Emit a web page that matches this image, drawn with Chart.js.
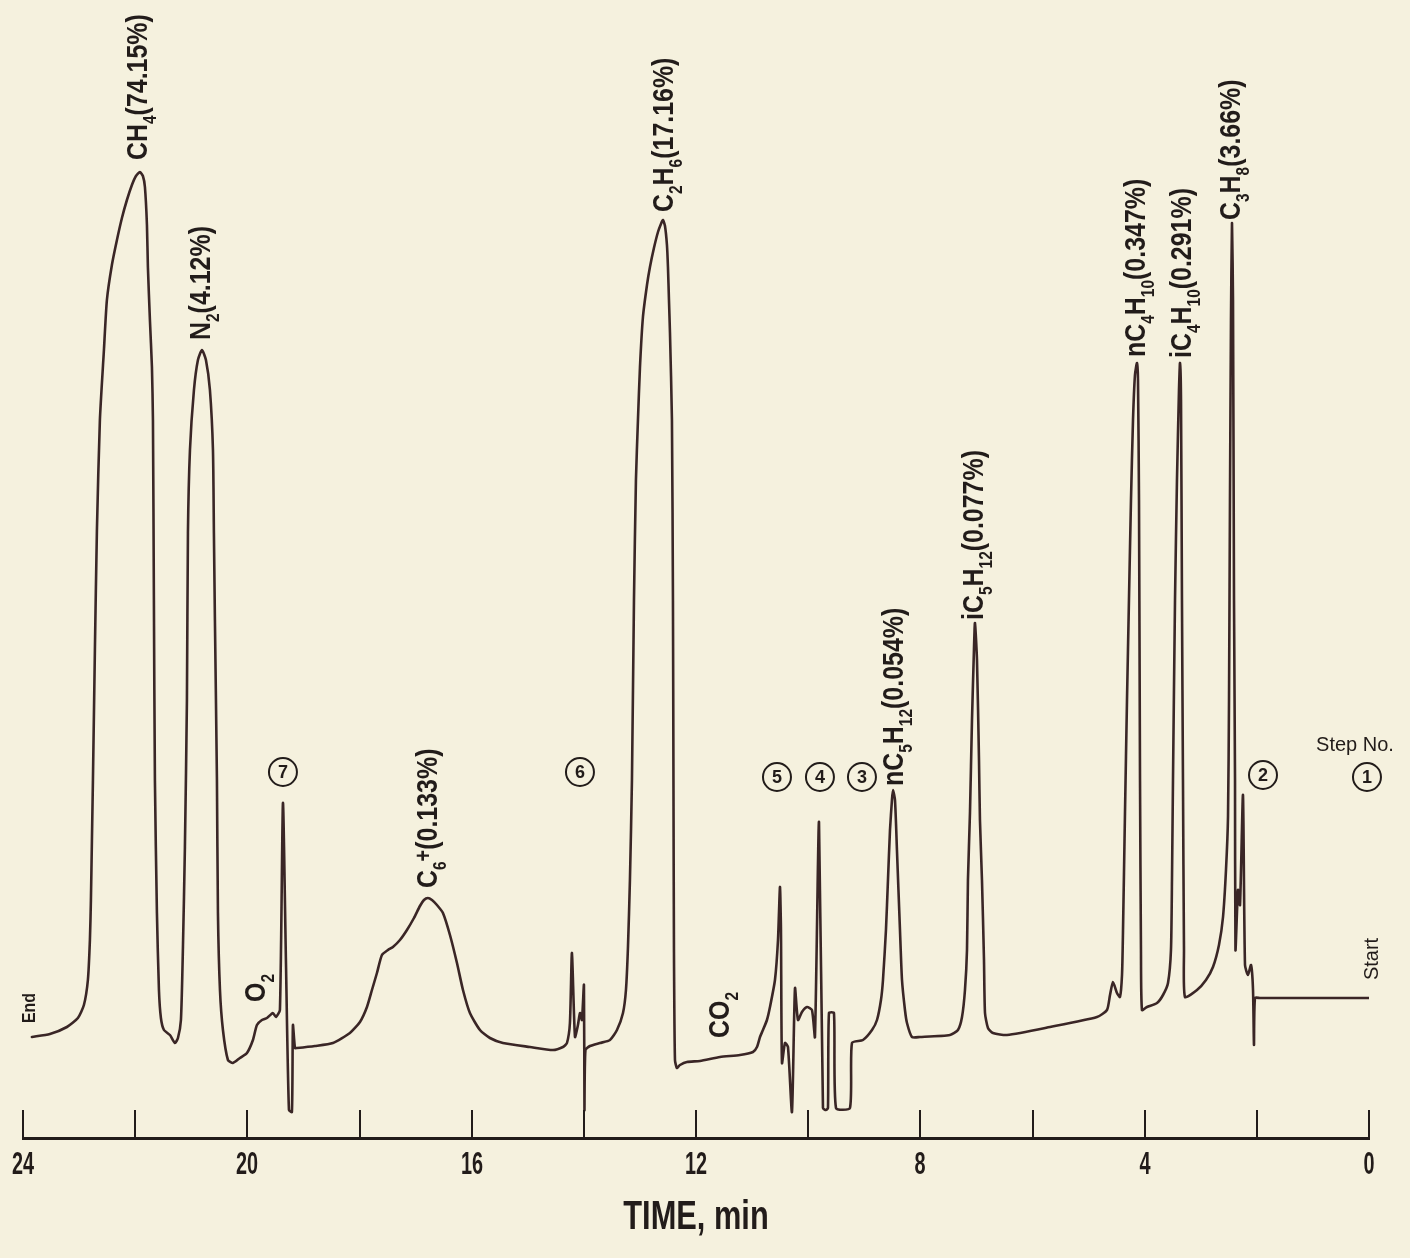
<!DOCTYPE html>
<html><head><meta charset="utf-8">
<script src="https://cdn.jsdelivr.net/npm/chart.js@4.4.1/dist/chart.umd.min.js"></script>
<style>html,body{margin:0;padding:0;background:#f5f1de;}canvas{display:block}</style>
</head><body>
<canvas id="c" width="1410" height="1258"></canvas>
<script>
// ---- data (time in min, detector response in arbitrary units) ----
const traceTime = [
23.841,23.520,23.217,23.021,22.914,22.843,22.807,22.789,22.771,22.753,
22.718,22.682,22.629,22.557,22.504,22.415,22.325,22.236,22.147,22.058,
21.986,21.915,21.862,21.826,21.790,21.773,21.737,21.701,21.683,21.666,
21.648,21.612,21.576,21.541,21.487,21.380,21.291,21.237,21.184,21.148,
21.113,21.077,21.059,21.023,20.952,20.881,20.809,20.738,20.667,20.613,
20.596,20.578,20.542,20.524,20.488,20.435,20.346,20.257,20.132,20.007,
19.900,19.829,19.740,19.650,19.544,19.490,19.419,19.365,19.312,19.258,
19.205,19.187,19.151,19.116,18.795,18.474,18.171,17.992,17.867,17.778,
17.689,17.600,17.493,17.404,17.279,17.154,17.029,16.922,16.851,16.780,
16.708,16.619,16.512,16.387,16.262,16.155,16.031,15.852,15.674,15.442,
14.961,14.551,14.372,14.301,14.248,14.212,14.158,14.105,14.069,14.034,
13.998,13.989,13.971,13.891,13.713,13.534,13.409,13.302,13.249,13.213,
13.178,13.142,13.106,13.071,13.035,12.999,12.946,12.874,12.821,12.750,
12.678,12.625,12.589,12.553,12.518,12.500,12.482,12.464,12.429,12.411,
12.402,12.393,12.375,12.340,12.286,12.161,11.929,11.573,11.216,10.984,
10.913,10.859,10.806,10.735,10.681,10.592,10.538,10.503,10.485,10.467,
10.414,10.360,10.289,10.235,10.182,10.111,10.021,9.932,9.879,9.807,
9.736,9.683,9.647,9.629,9.540,9.504,9.255,9.219,9.023,8.862,
8.773,8.702,8.666,8.613,8.577,8.541,8.506,8.488,8.452,8.417,
8.363,8.327,8.274,8.238,8.149,8.006,7.471,7.329,7.257,7.204,
7.168,7.151,7.115,7.079,7.044,7.026,6.990,6.954,6.937,6.901,
6.865,6.847,6.794,6.705,6.455,5.688,4.850,4.672,4.618,4.565,
4.494,4.440,4.404,4.387,4.351,4.315,4.280,4.244,4.208,4.173,
4.137,4.119,4.101,4.083,4.066,4.048,3.959,3.780,3.673,3.584,
3.531,3.513,3.495,3.459,3.424,3.388,3.370,3.352,3.335,3.317,
3.299,3.281,3.067,2.907,2.782,2.675,2.603,2.550,2.514,2.496,
2.479,2.461,2.443,2.425,2.407,2.389,2.381,2.336,2.300,2.247,
2.211,2.158,2.104,2.068,2.051,2.033,1.944,0.000];

const traceSignal = [
101,104,111,120,133,158,198,238,298,358,
488,608,718,788,838,873,898,920,938,953,
962,966,962,951,913,871,818,771,718,538,
358,225,148,120,108,103,95,100,118,191,
291,438,605,688,748,778,788,778,748,688,
605,518,358,225,148,108,78,75,80,85,
98,113,118,120,125,121,128,335,178,28,
26,113,90,90,92,95,105,116,131,148,
165,183,188,191,198,208,220,232,238,240,
238,233,225,203,175,148,125,108,100,95,
91,88,91,95,115,185,101,113,125,118,
153,28,88,92,95,98,108,125,148,191,
258,358,538,658,718,771,821,853,871,890,
906,914,918,912,893,871,838,805,718,538,
358,188,78,70,73,76,77,81,83,86,
91,101,108,118,131,158,198,251,208,75,
95,91,26,150,118,126,131,128,101,316,
30,28,30,125,125,30,30,95,98,108,
118,138,158,208,258,308,338,348,338,288,
208,158,128,115,101,101,103,108,121,148,
188,258,325,418,488,515,478,378,318,258,
178,125,110,105,103,111,121,128,143,156,
145,141,163,205,325,438,538,638,718,763,
775,758,638,358,188,128,131,135,143,155,
188,258,358,538,658,748,775,738,538,358,
188,141,148,158,171,193,221,268,321,438,
638,818,915,838,538,358,188,248,233,343,
173,163,173,148,93,140,140,140];

const tickValues = [24,22,20,18,16,14,12,10,8,6,4,2,0];
const tickLabels = ['24','','20','','16','','12','','8','','4','','0'];
const axisTitle = 'TIME, min';

// component labels: [text, kind] kind 0 normal, 1 subscript, 2 superscript
const peakLabelParts = [
  [['CH',0],['4',1],['(74.15%)',0]],
  [['N',0],['2',1],['(4.12%)',0]],
  [['O',0],['2',1]],
  [['C',0],['6',1],['+',2],['(0.133%)',0]],
  [['C',0],['2',1],['H',0],['6',1],['(17.16%)',0]],
  [['CO',0],['2',1]],
  [['nC',0],['5',1],['H',0],['12',1],['(0.054%)',0]],
  [['iC',0],['5',1],['H',0],['12',1],['(0.077%)',0]],
  [['nC',0],['4',1],['H',0],['10',1],['(0.347%)',0]],
  [['iC',0],['4',1],['H',0],['10',1],['(0.291%)',0]],
  [['C',0],['3',1],['H',0],['8',1],['(3.66%)',0]]
];
const peakLabelTime   = [21.790,20.667,19.686,16.619,12.411,11.412,8.310,6.883,3.994,3.174,2.300];
const peakLabelSignal = [978,798,136,250,926,100,352,518,781,780,918];

const stepNumbers = ['1','2','3','4','5','6','7'];
const stepTime    = [0.036,1.890,9.041,9.790,10.556,14.069,19.365];
const stepSignal  = [361,363,361,361,361,366,366];
const stepHeader = 'Step No.';
const stepHeaderTime = 0.250, stepHeaderSignal = 393;
const endText = 'End', endTime = 23.787, endSignal = 115;
const startText = 'Start', startTime = -0.160, startSignal = 158;

// ---- styles ----
const BG = '#f5f1de';
const INK = '#221c1a';
const LINE = '#3a2626';
const LBL_FAMILY = '"Liberation Sans", Arial, sans-serif';

function drawParts(ctx, x, y, parts, size, condense, weight, rotate, align) {
  ctx.save();
  ctx.translate(x, y);
  if (rotate) ctx.rotate(-Math.PI / 2);
  ctx.scale(condense, 1);
  ctx.textBaseline = 'alphabetic';
  ctx.textAlign = 'left';
  ctx.fillStyle = INK;
  let total = 0;
  for (const [txt, kind] of parts) {
    const fs = kind === 1 ? size * 0.62 : kind === 2 ? size * 0.8 : size;
    ctx.font = weight + ' ' + fs + 'px ' + LBL_FAMILY;
    total += ctx.measureText(txt).width;
  }
  let cx = align === 'center' ? -total / 2 : 0;
  for (const [txt, kind] of parts) {
    const fs = kind === 1 ? size * 0.62 : kind === 2 ? size * 0.8 : size;
    const dy = kind === 1 ? size * 0.30 : kind === 2 ? -size * 0.22 : 0;
    ctx.font = weight + ' ' + fs + 'px ' + LBL_FAMILY;
    ctx.fillText(txt, cx, dy);
    cx += ctx.measureText(txt).width;
  }
  ctx.restore();
}

const annotate = {
  id: 'annotate',
  beforeDraw(chart) {
    const c = chart.ctx;
    c.save(); c.fillStyle = BG; c.fillRect(0, 0, chart.width, chart.height); c.restore();
  },
  afterDraw(chart) {
    const ctx = chart.ctx, xs = chart.scales.x, ys = chart.scales.y;
    const yb = ys.getPixelForValue(0);
    // upward tick marks and condensed tick labels at the scale's tick positions
    ctx.save();
    ctx.strokeStyle = INK; ctx.lineWidth = 2;
    xs.ticks.forEach((t, i) => {
      const px = Math.round(xs.getPixelForValue(t.value));
      ctx.beginPath(); ctx.moveTo(px, yb); ctx.lineTo(px, yb - 28); ctx.stroke();
      const k = tickValues.indexOf(t.value);
      const lab = k >= 0 ? tickLabels[k] : '';
      if (lab) drawParts(ctx, px, xs.top + 36, [[lab, 0]], 32, 0.62, 'bold', false, 'center');
    });
    ctx.restore();
    // axis title
    drawParts(ctx, (xs.left + xs.right) / 2, xs.bottom - 29, [[axisTitle, 0]], 40, 0.77, 'bold', false, 'center');
    // peak labels (rotated)
    peakLabelParts.forEach((parts, i) => {
      drawParts(ctx, xs.getPixelForValue(peakLabelTime[i]), ys.getPixelForValue(peakLabelSignal[i]),
        parts, 29, 0.86, 'bold', true);
    });
    drawParts(ctx, xs.getPixelForValue(endTime), ys.getPixelForValue(endSignal), [[endText, 0]], 18, 0.88, 'bold', true);
    drawParts(ctx, xs.getPixelForValue(startTime), ys.getPixelForValue(startSignal), [[startText, 0]], 21, 0.95, 'normal', true);
    // step header
    ctx.save();
    ctx.fillStyle = INK; ctx.textAlign = 'center'; ctx.textBaseline = 'middle';
    ctx.font = 'normal 20px ' + LBL_FAMILY;
    ctx.fillText(stepHeader, xs.getPixelForValue(stepHeaderTime), ys.getPixelForValue(stepHeaderSignal));
    // circled step numbers
    stepNumbers.forEach((n, i) => {
      const px = xs.getPixelForValue(stepTime[i]), py = ys.getPixelForValue(stepSignal[i]);
      ctx.beginPath(); ctx.arc(px, py, 14, 0, Math.PI * 2);
      ctx.strokeStyle = INK; ctx.lineWidth = 2; ctx.stroke();
      ctx.font = 'bold 18px ' + LBL_FAMILY;
      ctx.fillText(n, px, py + 1);
    });
    ctx.restore();
  }
};

new Chart(document.getElementById('c'), {
  type: 'line',
  data: {
    datasets: [{
      data: traceTime.map((t, i) => ({ x: t, y: traceSignal[i] })),
      borderColor: LINE,
      borderWidth: 2.6,
      pointRadius: 0,
      tension: 0.2,
      fill: false,
      borderJoinStyle: 'round',
      borderCapStyle: 'round'
    }]
  },
  options: {
    responsive: false,
    devicePixelRatio: 1,
    animation: false,
    events: [],
    layout: { padding: { left: 23, right: 41, top: 0, bottom: 0 } },
    plugins: { legend: { display: false }, tooltip: { enabled: false }, title: { display: false } },
    scales: {
      x: {
        type: 'linear', min: 0, max: 24, reverse: true, position: 'bottom',
        afterBuildTicks: s => { s.ticks = tickValues.map(v => ({ value: v })); },
        afterFit: s => { s.height = 120; },
        grid: { display: false, drawTicks: false },
        border: { display: true, color: INK, width: 3 },
        ticks: { display: false },
        title: { display: false, text: axisTitle }
      },
      y: { type: 'linear', min: 0, max: 1138, display: false }
    }
  },
  plugins: [annotate]
});
</script>
</body></html>
